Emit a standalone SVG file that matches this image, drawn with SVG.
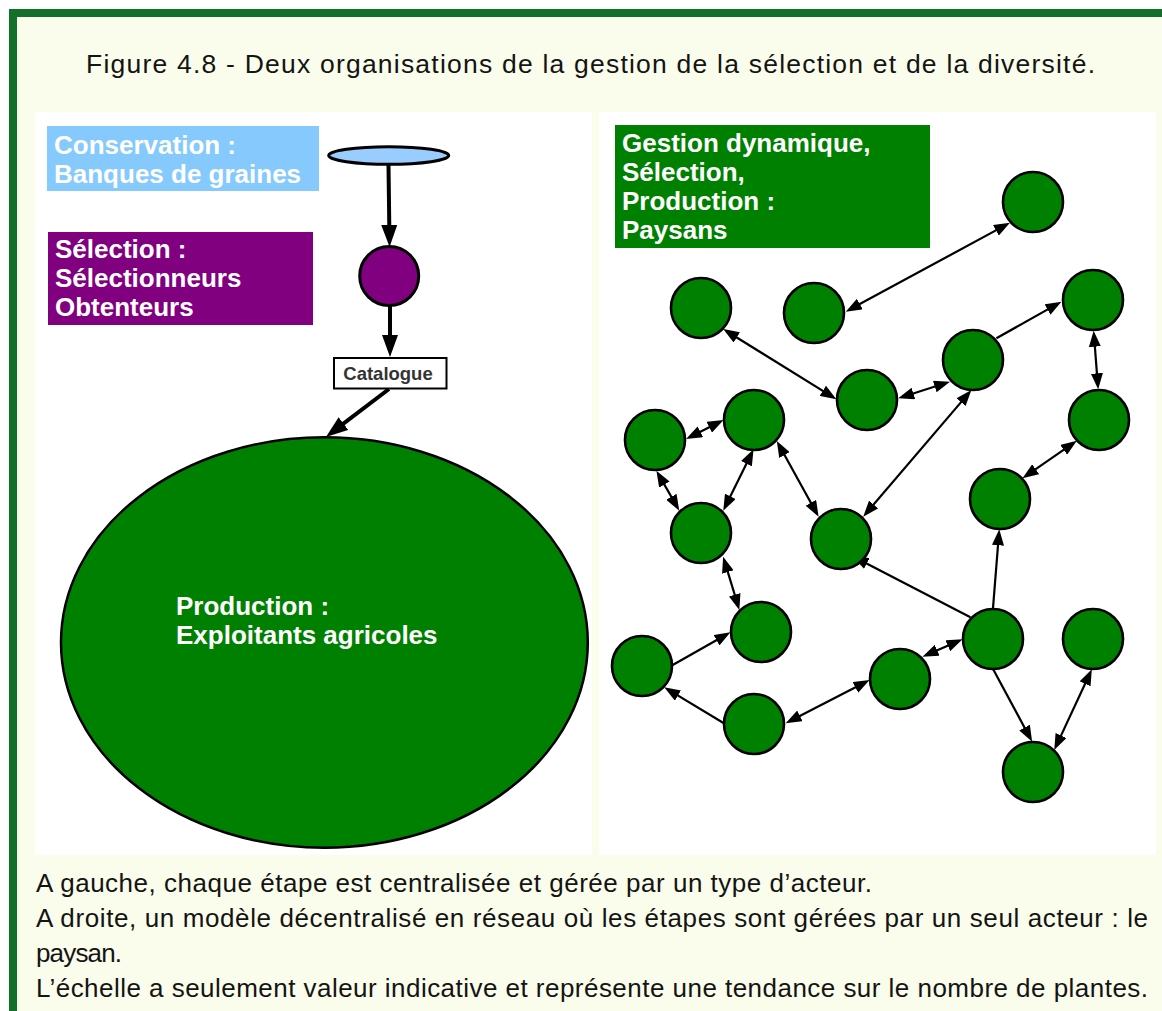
<svg xmlns="http://www.w3.org/2000/svg" width="1162" height="1011" viewBox="0 0 1162 1011">
<style>
.body{font-family:"Liberation Sans",Arial,sans-serif;font-size:26px;fill:#141414}
.title{font-size:26.5px}
.lbl{font-family:"Liberation Sans",Arial,sans-serif;font-weight:bold;font-size:26px;fill:#fff}
.node{fill:#008000;stroke:#000;stroke-width:2.6}
.conn{stroke:#000;stroke-width:2.2;fill:none}
.thick{stroke:#000;stroke-width:4;fill:none}
.panel{fill:#fff}
</style>
<defs>
<marker id="ah" markerUnits="userSpaceOnUse" viewBox="0 0 16 12" markerWidth="16" markerHeight="12" refX="10" refY="6" orient="auto-start-reverse"><path d="M0,0 L16,6 L0,12 z" fill="#000"/></marker>
<marker id="ahb" markerUnits="userSpaceOnUse" viewBox="0 0 22 16" markerWidth="22" markerHeight="16" refX="10" refY="8" orient="auto"><path d="M0,0 L22,8 L0,16 z" fill="#000"/></marker>
</defs>
<rect x="0" y="0" width="1162" height="1011" fill="#fff"/>
<rect x="9" y="9" width="1153" height="1002" fill="#13702b"/>
<rect x="17" y="17" width="1145" height="994" fill="#fafdeb"/>
<text class="body title" x="86" y="73" textLength="1009" lengthAdjust="spacing">Figure 4.8 - Deux organisations de la gestion de la sélection et de la diversité.</text>
<rect class="panel" x="35" y="112" width="557" height="743"/>
<rect class="panel" x="599" y="112" width="557" height="743"/>

<g id="connectors">
<path class="thick" d="M388.5,165 L389.4,235" marker-end="url(#ahb)"/>
<path class="thick" d="M390,306 L390,345" marker-end="url(#ahb)"/>
<path class="thick" d="M389,389 L335.5,429.7" marker-end="url(#ahb)"/>
<path class="conn" d="M851,308.8 L1004.7,225.6" marker-start="url(#ah)" marker-end="url(#ah)"/>
<path class="conn" d="M728.3,332.2 L831.3,396.1" marker-start="url(#ah)" marker-end="url(#ah)"/>
<path class="conn" d="M903.9,396.5 L944.3,383.5" marker-start="url(#ah)" marker-end="url(#ah)"/>
<path class="conn" d="M996.4,338.3 L1056.2,304.6" marker-end="url(#ah)"/>
<path class="conn" d="M1094.1,336.7 L1097.7,383.3" marker-start="url(#ah)" marker-end="url(#ah)"/>
<path class="conn" d="M691.4,436.3 L718.2,422.7" marker-start="url(#ah)" marker-end="url(#ah)"/>
<path class="conn" d="M867.1,512.1 L967.5,394.6" marker-start="url(#ah)" marker-end="url(#ah)"/>
<path class="conn" d="M779.7,446.3 L815.7,511.5" marker-start="url(#ah)" marker-end="url(#ah)"/>
<path class="conn" d="M750.9,454.7 L725.9,505.3" marker-start="url(#ah)" marker-end="url(#ah)"/>
<path class="conn" d="M659.4,475.9 L676.3,505.5" marker-start="url(#ah)" marker-end="url(#ah)"/>
<path class="conn" d="M1071.9,444.1 L1027.4,474.9" marker-start="url(#ah)" marker-end="url(#ah)"/>
<path class="conn" d="M724.9,562.4 L737.6,604.3" marker-start="url(#ah)" marker-end="url(#ah)"/>
<path class="conn" d="M671.4,665.7 L725.2,635.3" marker-end="url(#ah)"/>
<path class="conn" d="M723.9,723.3 L669.4,690.4" marker-end="url(#ah)"/>
<path class="conn" d="M791,720.5 L864.3,682.8" marker-start="url(#ah)" marker-end="url(#ah)"/>
<path class="conn" d="M928,654.3 L957,641.7" marker-start="url(#ah)" marker-end="url(#ah)"/>
<path class="conn" d="M970.4,617.3 L857.9,558.9" marker-end="url(#ah)"/>
<path class="conn" d="M992.9,609.3 L998.8,535.3" marker-end="url(#ah)"/>
<path class="conn" d="M992.9,668.7 L1029.3,736.4" marker-end="url(#ah)"/>
<path class="conn" d="M1089.3,674.7 L1056.8,744.6" marker-start="url(#ah)" marker-end="url(#ah)"/>
</g>

<g id="label-conservation">
<rect x="47" y="126" width="272" height="65" fill="#85c9fd"/>
<text class="lbl" x="54" y="154">Conservation :</text>
<text class="lbl" x="54" y="183">Banques de graines</text>
</g>
<g id="label-selection">
<rect x="48" y="232" width="265" height="93" fill="#800080"/>
<text class="lbl" x="55" y="258">Sélection :</text>
<text class="lbl" x="55" y="287">Sélectionneurs</text>
<text class="lbl" x="55" y="316">Obtenteurs</text>
</g>
<g id="seedbank"><ellipse cx="388.7" cy="155.5" rx="60" ry="8.8" fill="#99ccff" stroke="#000" stroke-width="3"/></g>
<g id="selector"><circle cx="389.2" cy="276" r="29.5" fill="#800080" stroke="#000" stroke-width="3"/></g>
<g id="catalogue">
<rect x="334" y="358" width="112.5" height="30.5" fill="#fff" stroke="#000" stroke-width="2"/>
<text x="388" y="380" text-anchor="middle" style="font-family:'Liberation Sans',Arial,sans-serif;font-weight:bold;font-size:18.5px;fill:#333">Catalogue</text>
</g>
<g id="production">
<ellipse cx="324.4" cy="642.5" rx="263.4" ry="205.2" fill="#008000" stroke="#000" stroke-width="2.5"/>
<text class="lbl" x="176" y="615">Production :</text>
<text class="lbl" x="176" y="644">Exploitants agricoles</text>
</g>

<g id="label-paysans">
<rect x="615" y="125" width="315" height="123" fill="#008000"/>
<text class="lbl" x="622" y="152">Gestion dynamique,</text>
<text class="lbl" x="622" y="181">Sélection,</text>
<text class="lbl" x="622" y="210">Production :</text>
<text class="lbl" x="622" y="239">Paysans</text>
</g>
<g id="n1"><circle class="node" cx="1033" cy="202" r="30"/></g>
<g id="n2"><circle class="node" cx="701" cy="308" r="30"/></g>
<g id="n3"><circle class="node" cx="814" cy="313" r="30"/></g>
<g id="n4"><circle class="node" cx="1093" cy="300" r="30"/></g>
<g id="n5"><circle class="node" cx="973" cy="360" r="30"/></g>
<g id="n6"><circle class="node" cx="867" cy="400" r="30"/></g>
<g id="n7"><circle class="node" cx="1099" cy="420" r="30"/></g>
<g id="n8"><circle class="node" cx="655" cy="440" r="30"/></g>
<g id="n9"><circle class="node" cx="754" cy="420" r="30"/></g>
<g id="n10"><circle class="node" cx="701" cy="533" r="30"/></g>
<g id="n11"><circle class="node" cx="841" cy="539" r="30"/></g>
<g id="n12"><circle class="node" cx="1000" cy="499" r="30"/></g>
<g id="n13"><circle class="node" cx="761" cy="632" r="30"/></g>
<g id="n14"><circle class="node" cx="642" cy="666" r="30"/></g>
<g id="n15"><circle class="node" cx="993" cy="639" r="30"/></g>
<g id="n16"><circle class="node" cx="1093" cy="639" r="30"/></g>
<g id="n17"><circle class="node" cx="900" cy="679" r="30"/></g>
<g id="n18"><circle class="node" cx="754" cy="724" r="30"/></g>
<g id="n19"><circle class="node" cx="1033" cy="772" r="30"/></g>

<text class="body" x="36" y="892" textLength="836" lengthAdjust="spacing">A gauche, chaque étape est centralisée et gérée par un type d’acteur.</text>
<text class="body" x="36" y="927" textLength="1112" lengthAdjust="spacing">A droite, un modèle décentralisé en réseau où les étapes sont gérées par un seul acteur : le</text>
<text class="body" x="36" y="961.5" textLength="86" lengthAdjust="spacing">paysan.</text>
<text class="body" x="36" y="996.5" textLength="1112" lengthAdjust="spacing">L’échelle a seulement valeur indicative et représente une tendance sur le nombre de plantes.</text>
</svg>
